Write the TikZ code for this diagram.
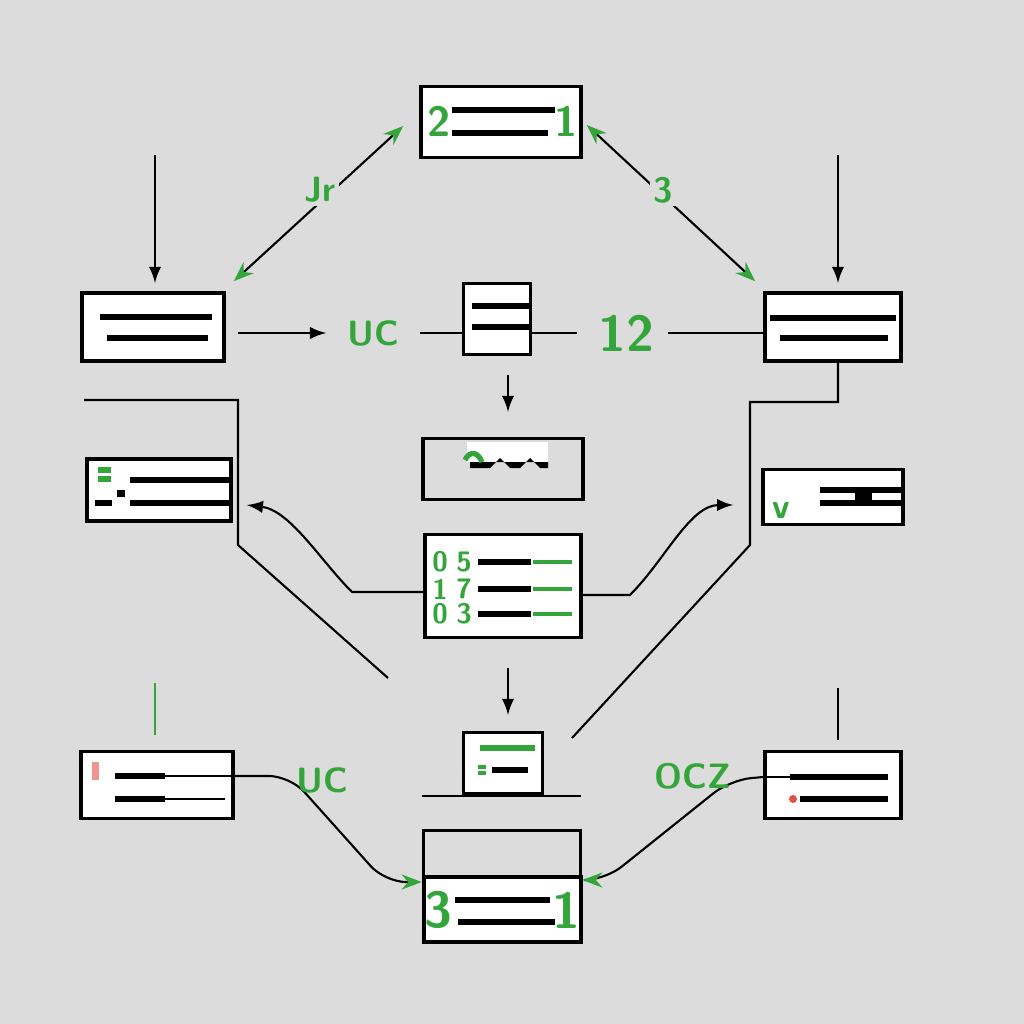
\documentclass[tikz,border=0pt]{standalone}
\usepackage{tikz}
\usetikzlibrary{positioning,arrows.meta}
\definecolor{bggray}{RGB}{220,220,220}
\definecolor{lblgreen}{RGB}{52,165,58}
\definecolor{tickred}{RGB}{225,80,70}

\begin{document}
\begin{tikzpicture}[x=0.01cm, y=-0.01cm, semithick,
box/.style = {draw, line width=1pt, fill=white, inner sep=0pt},
bar/.style = {line width=1.6pt},
gbar/.style = {line width=1.6pt, color=lblgreen},
lbl/.style = {text=lblgreen, font=\sffamily\bfseries, inner sep=1pt},
gtips/.style = {{Stealth[color=lblgreen]}-{Stealth[color=lblgreen]}},
gtip/.style = {-{Stealth[color=lblgreen]}}]
\fill[bggray] (0,0) rectangle (1024,1024);

% boxes
\node[box, minimum width=1.60cm, minimum height=0.71cm] (top) at (501,122) {};
\node[box, minimum width=1.42cm, minimum height=0.68cm] (lm) at (153,327) {};
\node[box, minimum width=0.67cm, minimum height=0.71cm] (cm) at (497,319) {};
\node[box, minimum width=1.36cm, minimum height=0.68cm] (rm) at (833,327) {};
\node[box, fill=bggray, minimum width=1.60cm, minimum height=0.61cm] (cl) at (503,469) {};
\node[box, minimum width=1.44cm, minimum height=0.62cm] (lb) at (159,490) {};
\node[box, minimum width=1.40cm, minimum height=0.55cm] (rb) at (833,497) {};
\node[box, minimum width=1.56cm, minimum height=1.03cm] (mid) at (503,586) {};
\node[box, minimum width=0.79cm, minimum height=0.61cm] (sm) at (503,763) {};
\node[box, minimum width=1.52cm, minimum height=0.67cm] (lbot) at (157,785) {};
\node[box, minimum width=1.36cm, minimum height=0.67cm] (rbot) at (833,785) {};
\node[box, fill=bggray, minimum width=1.57cm, minimum height=1.11cm] (bot) at (502,886) {};
\draw[line width=1pt, fill=white] (424,877) rectangle (581,942);

% box contents
\draw[bar] (452,110) -- (555,110);
\draw[bar] (452,133) -- (548,133);
\node[lbl, font=\sffamily\bfseries\large] (t1) at (439,121) {2};
\node[lbl, font=\sffamily\bfseries\large] (t2) at (566,121) {1};
\draw[bar] (100,317) -- (212,317);
\draw[bar] (107,338) -- (208,338);
\draw[bar] (472,306) -- (530,306);
\draw[bar] (472,327) -- (530,327);
\draw[bar] (770,318) -- (896,318);
\draw[bar] (780,338) -- (888,338);
\fill[white] (467,442) rectangle (548,462);
\fill (470,462) -- (548,462) -- (548,468) -- (540,468) -- (530,458) -- (520,468)
  -- (510,468) -- (500,458) -- (490,468) -- (470,468) -- cycle;
\draw[lblgreen, line width=1.5pt] (465,460) .. controls (470,450) and (478,452) .. (482,462);
\draw[gbar] (98,470) -- (111,470);
\draw[gbar] (98,479) -- (111,479);
\draw[bar] (130,480) -- (231,480);
\draw[bar] (130,503) -- (231,503);
\draw[bar] (95,503) -- (112,503);
\fill (117,490) rectangle (125,497);
\draw[bar] (820,490) -- (903,490);
\fill (855,487) rectangle (872,501);
\draw[bar] (820,503) -- (903,503);
\node[lbl] (rbg) at (781,510) {v};
\foreach \yy/\da/\db in {562/0/5, 589/1/7, 614/0/3} {
  \node[lbl, font=\sffamily\bfseries\footnotesize] at (440,\yy) {\da};
  \node[lbl, font=\sffamily\bfseries\footnotesize] at (464,\yy) {\db};
  \draw[bar] (478,\yy) -- (531,\yy);
  \draw[gbar, line width=1pt] (533,\yy) -- (572,\yy);
}
\draw[gbar] (480,748) -- (535,748);
\draw[bar] (492,770) -- (528,770);
\draw[gbar, line width=1pt] (478,767) -- (486,767);
\draw[gbar, line width=1pt] (478,773) -- (486,773);
\draw[bar] (115,776) -- (165,776);
\draw (165,776) -- (233,776);
\draw[bar] (115,799) -- (165,799);
\draw (165,799) -- (225,799);
\fill[tickred!60] (92,762) rectangle (99,780);
\draw (765,777) -- (790,777);
\draw[bar] (790,777) -- (888,777);
\draw[bar] (800,799) -- (888,799);
\fill[tickred] (793,799) circle (4);
\draw[bar] (455,900) -- (550,900);
\draw[bar] (458,922) -- (555,922);
\node[lbl, font=\sffamily\bfseries\Large] (b1) at (438,910) {3};
\node[lbl, font=\sffamily\bfseries\Large] (b2) at (566,910) {1};

% free ends
\coordinate (inL) at (155,155);
\coordinate (inR) at (838,155);
\coordinate (h1) at (238,333);
\coordinate (h2) at (668,333);
\coordinate (dn1) at (508,375);
\coordinate (dn2) at (508,412);
\coordinate (dn3) at (508,668);
\coordinate (dn4) at (508,715);
\coordinate (bl1) at (84,400);
\coordinate (bl2) at (388,678);
\coordinate (br1) at (838,362);
\coordinate (br2) at (572,738);
\coordinate (vl1) at (155,683);
\coordinate (vl2) at (155,735);
\coordinate (vr1) at (838,688);
\coordinate (vr2) at (838,740);
\coordinate (ul1) at (422,796);
\coordinate (ul2) at (581,796);

% connectors
\draw[-latex] (inL) -- (155,283);
\draw[-latex] (inR) -- (838,283);
\draw[gtips] ([shift={(8,-10)}]lm.north east) -- ([shift={(-16,4)}]top.west);
\draw[gtips] ([shift={(4,3)}]top.east) -- ([shift={(-8,-10)}]rm.north west);
\node[lbl, fill=bggray] (jr) at (320,190) {Jr};
\node[lbl, fill=bggray] (zz) at (663,190) {3};

\node[lbl, inner xsep=0.2cm] (uc1) at (373,333) {UC};
\node[lbl, font=\sffamily\bfseries\Large, inner xsep=0.2cm] (n12) at (626,333) {12};
\draw[-latex] (h1) -- (uc1.west);
\draw (uc1.east) -- (cm.west |- uc1.east);
\draw (cm.east |- n12.west) -- (n12.west);
\draw (h2) -- (rm.west |- h2);

\draw[-latex] (dn1) -- (dn2);
\draw[-latex] (dn3) -- (dn4);
\draw (bl1) -- (238,400) -- (238,545) -- (bl2);
\draw (br1) -- (838,402) -- (750,402) -- (750,545) -- (br2);
\draw[-latex] (mid.west |- 0,592) -- (352,592) .. controls (320,560) and (290,510) .. ([shift={(14,15)}]lb.east);
\draw[-latex] (mid.east |- 0,595) -- (630,595) .. controls (665,560) and (690,505) .. ([shift={(-28,8)}]rb.west);
\draw[lblgreen] (vl1) -- (vl2);
\draw (vr1) -- (vr2);
\draw (ul1) -- (ul2);

\draw[gtip, rounded corners=6pt] ([shift={(0,-9)}]lbot.east) -- (290,776) -- (385,882) -- (bot.west |- 0,882);
\draw[gtip, rounded corners=6pt] ([shift={(0,-8)}]rbot.west) -- (730,780) -- (605,880) -- (bot.east |- 0,880);
\node[lbl] (uc2) at (322,780) {UC};
\node[lbl] (ocz) at (693,776) {OCZ};
\end{tikzpicture}
\end{document}
